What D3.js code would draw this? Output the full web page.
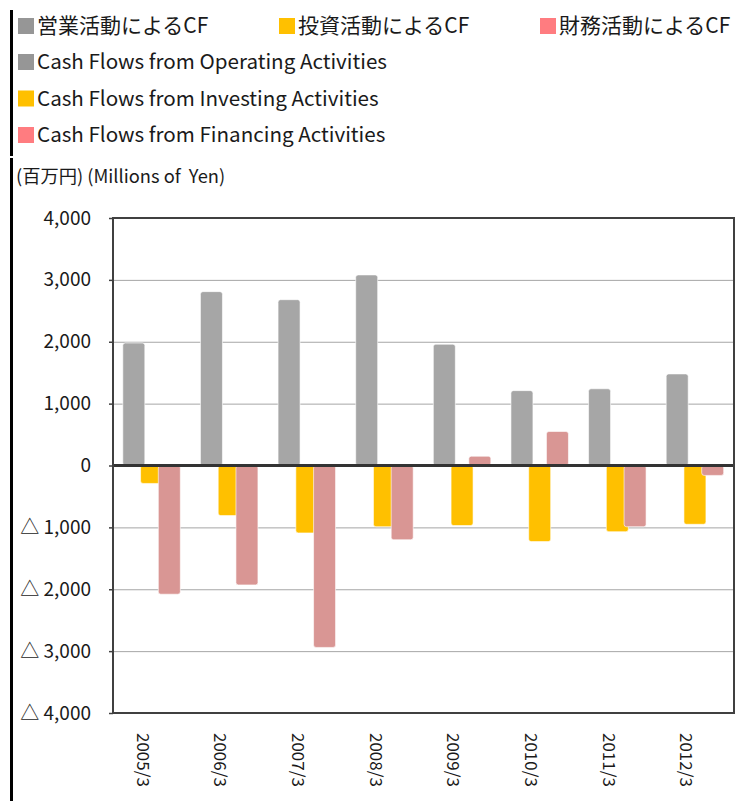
<!DOCTYPE html>
<html>
<head>
<meta charset="utf-8">
<script src="https://cdn.jsdelivr.net/npm/d3@7"></script>
<style>
  html, body { margin: 0; padding: 0; background: #fff; }
  svg { display: block; font-family: "Noto Sans CJK JP", "Noto Sans", sans-serif; }
</style>
</head>
<body>
<div id="chart"></div>
<script>
// -----------------------------
// DATA
// -----------------------------
const years = ["2005/3", "2006/3", "2007/3", "2008/3", "2009/3", "2010/3", "2011/3", "2012/3"];
const operatingCF = [1980, 2810, 2680, 3080, 1960, 1210, 1240, 1480];
const investingCF = [-290, -810, -1090, -990, -970, -1230, -1070, -950];
const financingCF = [-2080, -1930, -2940, -1200, 150, 550, -990, -160];
const yTicks = [4000, 3000, 2000, 1000, 0, -1000, -2000, -3000, -4000];

const seriesKeys = ["op", "inv", "fin"];
const barColor = { op: "#a6a6a6", inv: "#ffc000", fin: "#d99694" };
const legendColor = { op: "#969696", inv: "#ffc000", fin: "#ff7c80" };

const legendJa = ["営業活動によるCF", "投資活動によるCF", "財務活動によるCF"];
const legendEn = [
    "Cash Flows from Operating Activities",
    "Cash Flows from Investing Activities",
    "Cash Flows from Financing Activities"
];

const width = 737, height = 801;
const plot = { left: 113, right: 734, top: 218, bottom: 713 };

const svg = d3.select("#chart").append("svg")
    .attr("width", width)
    .attr("height", height);

// thick black rule down the left edge
svg.append("line")
    .attr("x1", 11.5).attr("x2", 11.5)
    .attr("y1", 10).attr("y2", 156)
    .attr("stroke", "#000").attr("stroke-width", 3);
svg.append("line")
    .attr("x1", 11.5).attr("x2", 11.5)
    .attr("y1", 158).attr("y2", 801)
    .attr("stroke", "#000").attr("stroke-width", 3);

// -----------------------------
// LEGEND
// -----------------------------
const legendJaX = [18, 279, 540];
seriesKeys.forEach((k, i) => {
    const g = svg.append("g").attr("transform", `translate(${legendJaX[i]},26)`);
    g.append("rect").attr("x", 0).attr("y", -8).attr("width", 16).attr("height", 16)
        .attr("fill", legendColor[k]);
    g.append("text").attr("x", 19).attr("y", 0).attr("dy", "0.35em")
        .attr("fill", "#1a1a1a").style("font-size", "21px")
        .text(legendJa[i]);
});
seriesKeys.forEach((k, i) => {
    const g = svg.append("g").attr("transform", `translate(18,${62 + i * 36.5})`);
    g.append("rect").attr("x", 0).attr("y", -8).attr("width", 16).attr("height", 16)
        .attr("fill", legendColor[k]);
    g.append("text").attr("x", 19).attr("y", 0).attr("dy", "0.35em")
        .attr("fill", "#1a1a1a").style("font-size", "20.6px")
        .text(legendEn[i]);
});

// unit label
svg.append("text")
    .attr("x", 16).attr("y", 177).attr("dy", "0.35em")
    .attr("fill", "#1a1a1a").style("font-size", "18.3px")
    .style("white-space", "pre")
    .text("(百万円) (Millions of  Yen)");

// -----------------------------
// SCALES
// -----------------------------
const x = d3.scaleBand().domain(years).range([plot.left, plot.right]).padding(0);
const offset = d3.scalePoint().domain(seriesKeys).range([-18, 17.5]);
const barW = 22;
const y = d3.scaleLinear().domain([-4000, 4000]).range([plot.bottom, plot.top]);

// gridlines
svg.append("g").selectAll("line")
    .data(yTicks.filter(t => t !== 0 && Math.abs(t) !== 4000))
    .join("line")
    .attr("x1", plot.left).attr("x2", plot.right)
    .attr("y1", d => y(d) + 0.5).attr("y2", d => y(d) + 0.5)
    .attr("stroke", "#a6a6a6").attr("stroke-width", 1);

// y axis labels
const yAxis = svg.append("g")
    .attr("transform", `translate(${plot.left},0)`)
    .call(d3.axisLeft(y).tickValues(yTicks).tickSize(4).tickPadding(18)
        .tickFormat(d => d < 0 ? "△ " + d3.format(",")(-d) : d3.format(",")(d)));
yAxis.select(".domain").remove();
yAxis.selectAll(".tick line").attr("stroke", "#404040").attr("stroke-width", 1.5);
yAxis.selectAll(".tick text")
    .attr("fill", "#1a1a1a")
    .style("font-size", "19px")
    .style("font-family", "\"Noto Sans CJK JP\", sans-serif");

// -----------------------------
// BARS
// -----------------------------
const rows = years.map((yr, i) => ({ year: yr, op: operatingCF[i], inv: investingCF[i], fin: financingCF[i] }));
seriesKeys.forEach(k => {
    svg.append("g").selectAll("rect")
        .data(rows)
        .join("rect")
        .attr("x", d => x(d.year) + x.bandwidth() / 2 + offset(k) - barW / 2)
        .attr("y", d => y(Math.max(0, d[k])))
        .attr("width", barW)
        .attr("height", d => Math.abs(y(d[k]) - y(0)))
        .attr("rx", 2.5)
        .attr("fill", barColor[k])
        .attr("stroke", "rgba(255,255,255,0.6)")
        .attr("stroke-width", 1);
});

// zero line
svg.append("line")
    .attr("x1", plot.left).attr("x2", plot.right)
    .attr("y1", y(0)).attr("y2", y(0))
    .attr("stroke", "#333").attr("stroke-width", 3);

// plot frame
svg.append("rect")
    .attr("x", plot.left).attr("y", plot.top)
    .attr("width", plot.right - plot.left).attr("height", plot.bottom - plot.top)
    .attr("fill", "none").attr("stroke", "#404040").attr("stroke-width", 2);

// x labels, rotated to read top-down
svg.append("g").selectAll("text")
    .data(years)
    .join("text")
    .attr("transform", d => `translate(${x(d) + x.bandwidth() / 2 - 9},733) rotate(90)`)
    .attr("dy", "0.35em")
    .attr("fill", "#1a1a1a")
    .style("font-size", "17px")
    .text(d => d);
</script>
</body>
</html>
